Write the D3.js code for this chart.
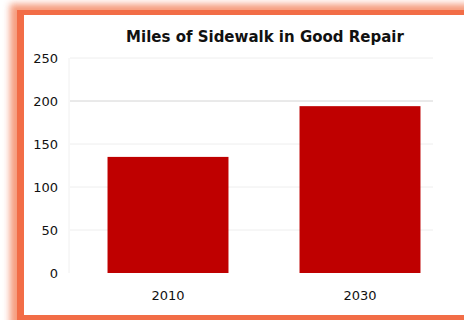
<!DOCTYPE html>
<html>
<head>
<meta charset="utf-8">
<script src="https://cdn.jsdelivr.net/npm/d3@7"></script>
<style>
  html, body { margin: 0; padding: 0; background: #fff; }
  svg { display: block; }
</style>
</head>
<body>
<svg id="chart" width="464" height="320"></svg>
<script>
// Miles of sidewalk in good repair, by year
const years = ["2010", "2030"];
const miles = [135, 194];
const yTicks = [0, 50, 100, 150, 200, 250];
const chartTitle = "Miles of Sidewalk in Good Repair";

const svg = d3.select("#chart");
const W = 464, H = 320;

// soft orange frame with a glow
const defs = svg.append("defs");
defs.append("filter").attr("id", "glow")
  .attr("x", "-20%").attr("y", "-20%").attr("width", "140%").attr("height", "140%")
  .append("feGaussianBlur").attr("stdDeviation", 3.5);

svg.append("rect").attr("width", W).attr("height", H).attr("fill", "#fff");
svg.append("rect")
  .attr("x", 10).attr("y", 4).attr("width", W + 40).attr("height", H + 40)
  .attr("fill", "#f3825c").attr("opacity", 0.8)
  .attr("filter", "url(#glow)");
svg.append("rect")
  .attr("x", 17).attr("y", 10).attr("width", W + 20).attr("height", H + 20)
  .attr("fill", "#f26d47");
svg.append("rect")
  .attr("x", 24).attr("y", 15).attr("width", W).attr("height", 300)
  .attr("fill", "#ffffff");

// plot area
const plotLeft = 70, plotRight = 433;
const x = d3.scaleBand()
  .domain(years)
  .range([72, 456])
  .paddingInner(0.37)
  .paddingOuter(0.185);
const y = d3.scaleLinear().domain([0, 250]).range([273, 58]);

// gridlines
svg.append("g")
  .selectAll("line")
  .data(yTicks.filter(d => d > 0))
  .join("line")
  .attr("x1", plotLeft).attr("x2", plotRight)
  .attr("y1", d => y(d)).attr("y2", d => y(d))
  .attr("stroke", d => d === 200 ? "#d4d4d4" : "#eeeeee")
  .attr("stroke-width", 1);

// faint vertical axis line
svg.append("line")
  .attr("x1", plotLeft - 1).attr("x2", plotLeft - 1)
  .attr("y1", y(250)).attr("y2", y(0))
  .attr("stroke", "#f0f0f0");

// bars
svg.append("g")
  .selectAll("rect")
  .data(years.map((yr, i) => ({ yr, v: miles[i] })))
  .join("rect")
  .attr("x", d => x(d.yr))
  .attr("width", x.bandwidth())
  .attr("y", d => y(d.v))
  .attr("height", d => y(0) - y(d.v))
  .attr("fill", "#bf0000");

// y axis labels
const yAxis = d3.axisLeft(y).tickValues(yTicks).tickSize(0).tickPadding(0);
const gy = svg.append("g").attr("transform", "translate(58,0)").call(yAxis);
gy.select(".domain").remove();
gy.selectAll("text")
  .attr("font-family", "DejaVu Sans, sans-serif")
  .attr("font-size", 13)
  .attr("fill", "#111");

// x axis labels
const xAxis = d3.axisBottom(x).tickSize(0).tickPadding(0);
const gx = svg.append("g").attr("transform", "translate(0,291)").call(xAxis);
gx.select(".domain").remove();
gx.selectAll("text")
  .attr("font-family", "DejaVu Sans, sans-serif")
  .attr("font-size", 13)
  .attr("fill", "#111");

// title
svg.append("text")
  .attr("x", 265).attr("y", 42)
  .attr("text-anchor", "middle")
  .attr("font-family", "DejaVu Sans, sans-serif")
  .attr("font-weight", "bold")
  .attr("font-size", 15)
  .attr("fill", "#111")
  .text(chartTitle);
</script>
</body>
</html>
